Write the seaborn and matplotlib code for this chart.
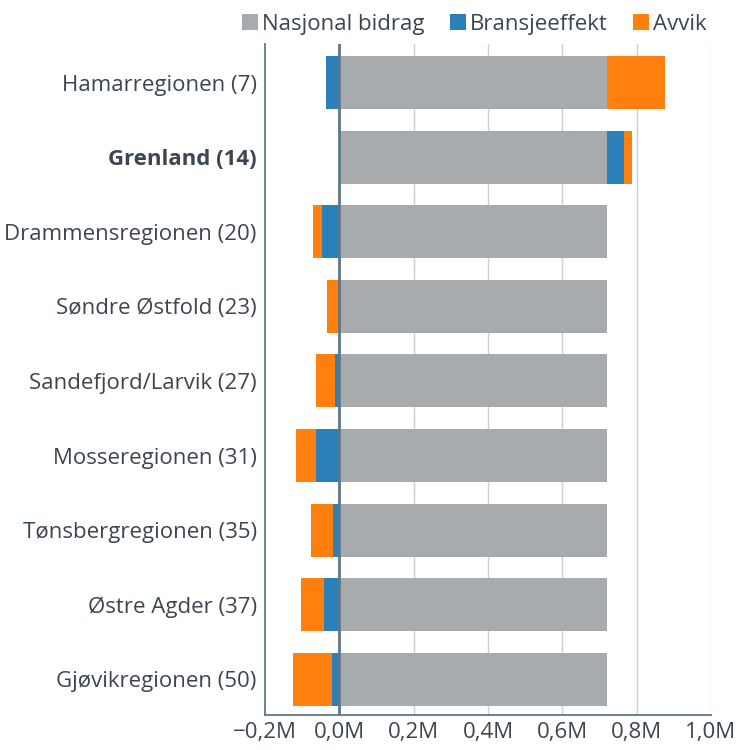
import matplotlib
matplotlib.use("Agg")
import matplotlib.pyplot as plt
import seaborn as sns
import pandas as pd
import numpy as np
from matplotlib.ticker import FuncFormatter
from matplotlib.lines import Line2D

regions = ["Hamarregionen (7)", "Grenland (14)", "Drammensregionen (20)",
           "Søndre Østfold (23)", "Sandefjord/Larvik (27)", "Mosseregionen (31)",
           "Tønsbergregionen (35)", "Østre Agder (37)", "Gjøvikregionen (50)"]
nasjonal = [0.721, 0.721, 0.721, 0.721, 0.721, 0.721, 0.721, 0.721, 0.721]
bransje = [-0.036, 0.046, -0.047, 0.0, -0.012, -0.062, -0.017, -0.042, -0.020]
avvik = [0.155, 0.020, -0.023, -0.033, -0.050, -0.054, -0.059, -0.062, -0.105]
series_names = ["Nasjonal bidrag", "Bransjeeffekt", "Avvik"]
xticks = [-0.2, 0.0, 0.2, 0.4, 0.6, 0.8, 1.0]

GRAY = "#A7ABAE"
BLUE = "#2B80BA"
ORANGE = "#FF7F0F"
TEXT = "#3B4650"

sns.set_theme(style="white")
plt.rcParams['font.family'] = ['Open Sans', 'DejaVu Sans']

df = pd.DataFrame({"region": regions, "nasjonal": nasjonal,
                   "bransje": bransje, "avvik": avvik})
df["b_pos"] = df["bransje"].clip(lower=0)
df["b_neg"] = df["bransje"].clip(upper=0)
df["a_pos"] = df["avvik"].clip(lower=0)
df["a_neg"] = df["avvik"].clip(upper=0)
df["pos_orange"] = df["nasjonal"] + df["b_pos"] + df["a_pos"]
df["pos_blue"] = df["nasjonal"] + df["b_pos"]
df["neg_orange"] = df["b_neg"] + df["a_neg"]
df["neg_blue"] = df["b_neg"]

fig = plt.figure(figsize=(7.41, 7.5), dpi=100)
ax = fig.add_axes([0.3576, 0.0467, 0.6019, 0.8947])

W = 0.71
kw = dict(y="region", orient="h", width=W, linewidth=0, ax=ax, order=regions)
sns.barplot(data=df, x="pos_orange", color=ORANGE, saturation=1, **kw)
sns.barplot(data=df, x="pos_blue", color=BLUE, saturation=1, **kw)
sns.barplot(data=df, x="nasjonal", color=GRAY, saturation=1, **kw)
sns.barplot(data=df, x="neg_orange", color=ORANGE, saturation=1, **kw)
sns.barplot(data=df, x="neg_blue", color=BLUE, saturation=1, **kw)

ax.set_xlim(-0.2, 1.0)
ax.set_ylim(8.48, -0.52)
ax.set_xticks(xticks)

def fmt(v, pos):
    s = f"{abs(v):.1f}".replace(".", ",") + "M"
    return ("\u2212" + s) if v < -1e-9 else s
ax.xaxis.set_major_formatter(FuncFormatter(fmt))

for xv in xticks:
    if abs(xv) < 1e-9:
        ax.axvline(xv, color="#5E7787", lw=2.0, zorder=5)
    elif xv > -0.2 + 1e-9:
        ax.axvline(xv, color="#C9CFD6", lw=1.0, zorder=0)

ax.set_xlabel("")
ax.set_ylabel("")
for s in ["top", "right"]:
    ax.spines[s].set_visible(False)
for s in ["left", "bottom"]:
    ax.spines[s].set_color("#5E7787")
    ax.spines[s].set_linewidth(1.3)

FS = 16
ax.tick_params(axis="x", labelsize=FS, colors=TEXT, length=0, pad=5)
ax.tick_params(axis="y", labelsize=FS, colors=TEXT, length=0, pad=6)
for lab in ax.get_yticklabels():
    if lab.get_text().startswith("Grenland"):
        lab.set_fontweight("bold")

handles = [Line2D([0], [0], marker="s", linestyle="none", markersize=12,
                  markerfacecolor=c, markeredgewidth=0)
           for c in [GRAY, BLUE, ORANGE]]
fig.legend(handles, series_names, loc="center right", bbox_to_anchor=(0.966, 0.967),
           ncol=3, frameon=False, fontsize=FS, handletextpad=0.05,
           columnspacing=1.0, handlelength=1.0, labelcolor=TEXT, borderaxespad=0)

fig.savefig("out.png", dpi=100, facecolor="white")
